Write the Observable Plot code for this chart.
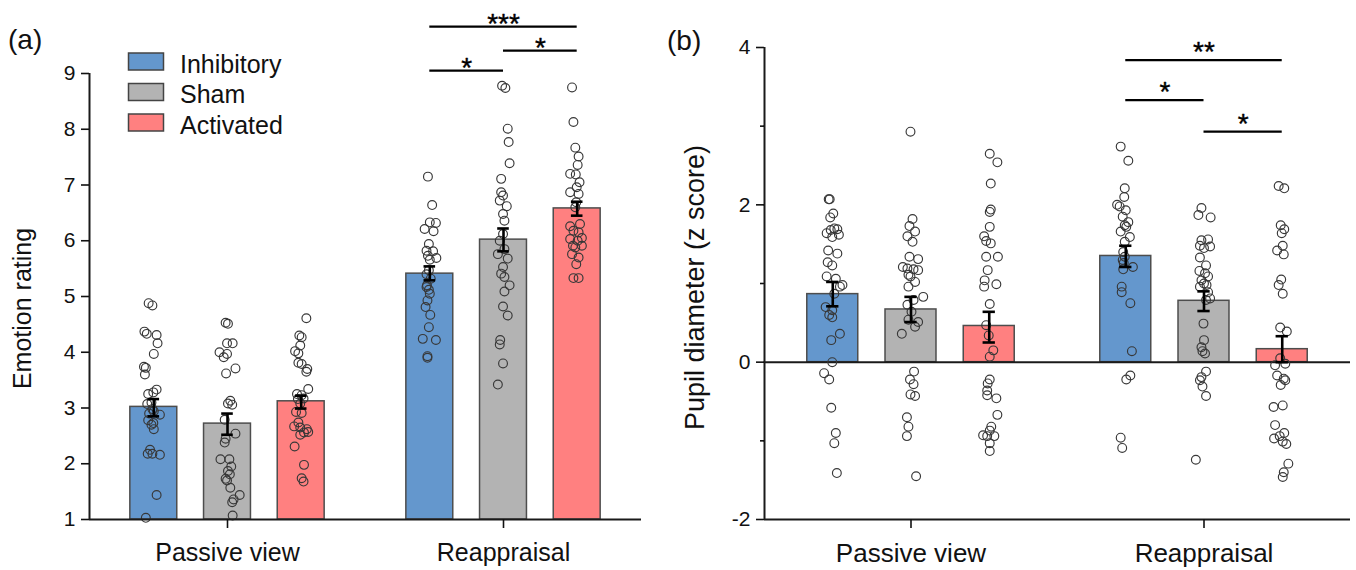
<!DOCTYPE html>
<html>
<head>
<meta charset="utf-8">
<script src="https://cdn.jsdelivr.net/npm/d3@7"></script>
<script src="https://cdn.jsdelivr.net/npm/@observablehq/plot@0.6"></script>
<style>
  body { margin: 0; background: #fff; font-family: "Liberation Sans", Arial, sans-serif; }
  #wrap { position: relative; width: 1356px; height: 570px; overflow: hidden; background: #fff; }
  .panel { position: absolute; top: 0; }
  .panel svg { overflow: visible; max-width: none; }
  .tag { position: absolute; font-size: 28px; line-height: 28px; color: #111; }
  #legend { position: absolute; left: 0; top: 0; }
</style>
</head>
<body>
<div id="wrap">
  <div class="panel" id="pa" style="left:0px;width:660px;"></div>
  <div class="panel" id="pb" style="left:660px;width:696px;"></div>
  <div class="tag" style="left:8px;top:26px;">(a)</div>
  <div class="tag" style="left:667px;top:27px;">(b)</div>
</div>
<script>
// ---------- categories ----------
const conditions = ["Passive view", "Reappraisal"];
const groups = ["Inhibitory", "Sham", "Activated"];
const colors = ["#6497CD", "#B3B3B3", "#FF8080"];

// ---------- (a) Emotion rating: means and SEM bounds [condition][group] ----------
const ratingMean = [[3.02, 2.72, 3.12], [5.41, 6.02, 6.58]];
const ratingLow  = [[2.85, 2.52, 2.99], [5.29, 5.81, 6.45]];
const ratingHigh = [[3.16, 2.90, 3.22], [5.54, 6.22, 6.70]];
const ratingYTicks = [1, 2, 3, 4, 5, 6, 7, 8, 9];

// individual participants: [value, jitter (fraction of bar width)]
const ratingPassiveInhibitory = [[4.88,-0.11],[4.84,-0.03],[4.37,-0.20],[4.33,-0.15],[4.31,0.06],[4.16,0.08],[3.97,0],[3.74,-0.21],[3.72,-0.17],[3.60,-0.19],[3.33,0.06],[3.28,-0.01],[3.25,-0.12],[3.07,-0.14],[3.10,-0.05],[2.98,-0.03],[2.94,0],[2.88,0.13],[2.90,-0.10],[2.78,-0.12],[2.73,-0.01],[2.70,-0.05],[2.62,0],[2.25,-0.08],[2.18,-0.13],[2.18,-0.03],[2.16,0.13],[1.44,0.06],[1.03,-0.17]];
const ratingPassiveSham = [[4.53,-0.04],[4.51,0.01],[4.16,-0.01],[4.16,0.11],[4.00,-0.17],[3.97,-0.01],[3.91,-0.08],[3.71,0.17],[3.62,-0.03],[3.13,0.06],[3.08,0.01],[3.06,0.10],[2.79,-0.06],[2.54,0.17],[2.45,-0.04],[2.38,-0.06],[2.08,-0.15],[2.08,0.04],[1.95,0.08],[1.87,0.01],[1.81,0.05],[1.73,-0.04],[1.70,-0.01],[1.57,0.06],[1.44,0.26],[1.36,0.13],[1.31,0.10],[1.07,0.11]];
const ratingPassiveActivated = [[4.61,0.11],[4.30,-0.04],[4.27,0.01],[4.12,-0.02],[4.02,-0.13],[3.98,-0.06],[3.81,-0.06],[3.79,0.01],[3.70,0.13],[3.65,0.11],[3.34,0.15],[3.25,-0.09],[3.23,0.01],[3.16,-0.07],[3.17,0.05],[3.08,-0.02],[2.93,-0.11],[2.91,0.01],[2.74,-0.06],[2.67,-0.15],[2.65,-0.02],[2.62,0.12],[2.57,0.15],[2.56,0.06],[2.52,-0.02],[2.31,-0.14],[1.98,0.06],[1.74,0.01],[1.68,0.05]];
const ratingReappInhibitory = [[7.15,-0.04],[6.64,0.05],[6.33,0],[6.32,0.13],[6.21,-0.11],[6.17,0.08],[5.94,-0.02],[5.82,-0.07],[5.81,0.07],[5.73,-0.04],[5.69,0.14],[5.66,0],[5.47,-0.02],[5.40,-0.07],[5.32,0.02],[5.20,-0.06],[5.17,-0.07],[5.12,-0.02],[5.05,0],[4.93,-0.05],[4.81,-0.09],[4.67,0.01],[4.45,-0.02],[4.24,-0.15],[4.22,0.13],[3.93,-0.05],[3.90,-0.05]];
const ratingReappSham = [[8.78,-0.03],[8.74,0.04],[8.01,0.09],[7.77,0.11],[7.39,0.13],[7.11,-0.05],[6.87,-0.05],[6.81,-0.01],[6.72,-0.08],[6.62,0.07],[6.48,-0.01],[6.36,0.02],[6.12,-0.01],[6.00,-0.08],[5.85,0.02],[5.76,-0.12],[5.68,0.09],[5.53,-0.01],[5.41,-0.05],[5.35,0.02],[5.20,0.13],[5.09,0.02],[4.82,-0.01],[4.66,0.09],[4.22,-0.07],[4.14,-0.08],[3.80,-0.01],[3.42,-0.12]];
const ratingReappActivated = [[8.75,-0.11],[8.13,-0.08],[7.67,-0.04],[7.51,0.03],[7.36,0.01],[7.20,-0.15],[7.19,-0.03],[7.05,0.05],[6.96,-0.01],[6.87,-0.15],[6.84,0.03],[6.69,-0.02],[6.60,-0.04],[6.26,-0.15],[6.30,0.06],[6.18,-0.08],[6.15,0.03],[6.03,-0.15],[6.00,0.01],[5.88,-0.04],[5.91,0.10],[5.76,-0.11],[5.70,0.03],[5.58,-0.02],[5.33,-0.08],[5.33,0.03],[6.05,0.10],[5.91,-0.09]];

// significance brackets (Reappraisal): group indices, bracket level, label
const ratingSig = [
  {from: 0, to: 2, level: 9.84, label: "***"},
  {from: 0, to: 1, level: 9.05, label: "*"},
  {from: 1, to: 2, level: 9.41, label: "*"}
];

// ---------- (b) Pupil diameter ----------
const pupilMean = [[0.865, 0.67, 0.46], [1.35, 0.78, 0.165]];
const pupilLow  = [[0.71, 0.51, 0.25], [1.21, 0.65, 0.00]];
const pupilHigh = [[1.02, 0.83, 0.64], [1.48, 0.90, 0.33]];
const pupilYTicks = [-2, 0, 2, 4];
const pupilMinorTicks = [-1, 1, 3];

const pupilPassiveInhibitory = [[2.07,-0.08],[2.07,-0.06],[1.89,0.01],[1.84,-0.05],[1.70,0.03],[1.68,-0.04],[1.69,0.09],[1.64,-0.12],[1.62,0.12],[1.59,-0.01],[1.42,-0.09],[1.38,0.09],[1.27,-0.10],[1.23,-0.01],[1.09,-0.12],[1.06,0.06],[0.98,0.19],[0.96,0.14],[0.87,0.03],[0.70,-0.14],[0.66,-0.01],[0.60,-0.07],[0.57,-0.01],[0.36,0.14],[0.28,-0.03],[0.00,-0.01],[-0.14,-0.17],[-0.22,-0.07],[-0.58,-0.03],[-0.90,0.06],[-1.03,0.03],[-1.41,0.08]];
const pupilPassiveSham = [[2.93,-0.01],[1.82,0.03],[1.73,-0.03],[1.66,0.08],[1.60,-0.07],[1.53,0.03],[1.34,-0.03],[1.31,0.14],[1.21,-0.16],[1.19,-0.07],[1.18,0.05],[1.17,0.14],[1.11,-0.05],[1.09,-0.01],[1.02,0.08],[0.96,-0.05],[0.83,0.24],[0.79,0.05],[0.73,-0.07],[0.64,0.01],[0.51,0.14],[0.54,-0.05],[0.45,0.08],[0.36,-0.18],[-0.12,0.06],[-0.22,-0.02],[-0.28,0.05],[-0.41,-0.01],[-0.43,0.08],[-0.70,-0.08],[-0.82,-0.05],[-0.94,-0.08],[-1.45,0.10]];
const pupilPassiveActivated = [[2.65,0.01],[2.54,0.16],[2.27,0.03],[1.94,0.03],[1.91,0.01],[1.72,0.01],[1.60,-0.10],[1.54,-0.06],[1.51,0.03],[1.34,-0.06],[1.34,0.17],[1.17,-0.03],[1.04,-0.09],[0.99,0.14],[0.96,-0.10],[0.74,0.01],[0.47,-0.06],[0.34,-0.01],[0.15,0.08],[0.07,0.01],[-0.22,0.01],[-0.27,-0.03],[-0.36,-0.04],[-0.42,-0.04],[-0.46,0.14],[-0.67,0.16],[-0.82,0.04],[-0.87,0.01],[-0.93,-0.12],[-0.94,0.10],[-0.94,-0.04],[-1.03,0.01],[-1.13,0.01]];
const pupilReappInhibitory = [[2.74,-0.10],[2.56,0.05],[2.21,-0.02],[2.10,-0.03],[2.00,-0.17],[1.98,-0.12],[1.93,0],[1.85,-0.06],[1.78,0.05],[1.74,-0.02],[1.72,0.01],[1.66,-0.10],[1.59,0.08],[1.53,-0.02],[1.40,-0.05],[1.34,-0.02],[1.30,-0.06],[1.26,-0.04],[1.21,0.14],[1.18,-0.05],[0.96,-0.08],[0.89,-0.08],[0.75,0.09],[0.14,0.12],[-0.17,0.09],[-0.22,0.01],[-0.96,-0.10],[-1.09,-0.07]];
const pupilReappSham = [[1.96,-0.05],[1.87,-0.11],[1.84,0.13],[1.55,-0.05],[1.56,0.08],[1.47,0.12],[1.48,-0.08],[1.45,0],[1.33,-0.08],[1.23,0.04],[1.16,-0.09],[1.13,0.02],[1.09,0.08],[1.04,-0.05],[1.00,0],[0.98,0.05],[0.96,-0.08],[0.89,0.08],[0.81,0.12],[0.79,0.04],[0.49,-0.01],[0.28,0],[0.19,-0.05],[0.14,-0.03],[0.11,0.02],[-0.12,0.04],[-0.19,-0.05],[-0.23,-0.08],[-0.31,-0.03],[-0.43,0.04],[-1.24,-0.16]];
const pupilReappActivated = [[2.24,-0.07],[2.21,0.04],[1.74,-0.03],[1.69,0.04],[1.64,-0.01],[1.48,0.01],[1.42,-0.10],[1.37,0.03],[1.05,-0.02],[0.98,-0.07],[0.87,0.01],[0.44,-0.04],[0.39,0.09],[0.05,-0.04],[-0.04,-0.14],[-0.02,0.06],[-0.17,-0.10],[-0.21,0.03],[-0.23,0.06],[-0.29,-0.03],[-0.57,-0.17],[-0.55,0.01],[-0.80,-0.14],[-0.90,0.04],[-0.94,-0.05],[-0.97,-0.16],[-1.01,0.01],[-1.04,0.08],[-1.29,0.12],[-1.40,0.03],[-1.46,0.01]];

const pupilSig = [
  {from: 0, to: 2, level: 3.84, label: "**"},
  {from: 0, to: 1, level: 3.33, label: "*"},
  {from: 1, to: 2, level: 2.93, label: "*"}
];

// ---------- drawing ----------
const FONT = "'Liberation Sans', Arial, sans-serif";
const groupOffset = [-0.267, 0, 0.267];

function makePanel(o) {
  const bars = [];
  conditions.forEach((c, ci) => groups.forEach((g, gi) => bars.push({
    ci, gi, pos: ci + groupOffset[gi],
    mean: o.mean[ci][gi], lo: o.low[ci][gi], hi: o.high[ci][gi]
  })));
  const dots = [];
  o.points.forEach((cond, ci) => cond.forEach((grp, gi) => grp.forEach(([v, j]) =>
    dots.push({x: ci + groupOffset[gi] + j * o.barW, y: v}))));
  const sig = o.sig.map(s => ({...s, x1: 1 + groupOffset[s.from], x2: 1 + groupOffset[s.to]}));
  const cap = 0.021;
  const xDomain = [-0.5, 1.5];
  const marks = [
    Plot.rectY(bars, {x1: d => d.pos - o.barW / 2, x2: d => d.pos + o.barW / 2,
      y1: o.base, y2: "mean", fill: d => colors[d.gi], stroke: "#4d4d4d", strokeWidth: 1.5}),
  ];
  if (o.zero) marks.push(Plot.ruleY([0], {stroke: "#1a1a1a", strokeWidth: 2}));
  marks.push(
    Plot.dot(dots, {x: "x", y: "y", r: 4.4, stroke: "#383838", strokeWidth: 1.15, fill: "none"}),
    Plot.ruleX(bars, {x: "pos", y1: "lo", y2: "hi", stroke: "#000", strokeWidth: 2.6}),
    Plot.ruleY(bars, {x1: d => d.pos - cap, x2: d => d.pos + cap, y: "lo", stroke: "#000", strokeWidth: 2.6}),
    Plot.ruleY(bars, {x1: d => d.pos - cap, x2: d => d.pos + cap, y: "hi", stroke: "#000", strokeWidth: 2.6}),
    Plot.ruleY(sig, {x1: "x1", x2: "x2", y: "level", stroke: "#000", strokeWidth: 2.2}),
    Plot.text(sig, {x: d => (d.x1 + d.x2) / 2, y: "level", text: "label", fontSize: 28, fontWeight: 500,
      dy: o.starDy, fill: "#000", stroke: "#000", strokeWidth: 0.4}),
    // axis lines
    Plot.ruleX([xDomain[0]], {y1: o.yDomain[0], y2: o.yDomain[1], stroke: "#1a1a1a", strokeWidth: 2}),
    Plot.ruleY([o.yDomain[0]], {stroke: "#1a1a1a", strokeWidth: 2}),
    Plot.axisY({ticks: o.yTicks, tickSize: 8, tickPadding: 6, fontSize: 21, tickFormat: d => String(d),
      label: null, strokeWidth: 1.6, fill: "#111"}),
    Plot.axisX({ticks: [0, 1], tickFormat: i => conditions[i], tickSize: 9, tickPadding: 15,
      fontSize: o.xFont, label: null, strokeWidth: 1.6, fill: "#111"}),
    Plot.text([o.title], {frameAnchor: "left", textAnchor: "middle", rotate: -90,
      dx: o.titleDx, dy: o.titleDy, fontSize: o.titleFont, fill: "#111"})
  );
  if (o.minor) marks.push(Plot.axisY({ticks: o.minor, tickSize: 4, tickFormat: () => "", label: null, strokeWidth: 1.6}));
  return Plot.plot({
    width: o.width, height: 570,
    marginLeft: o.ml, marginRight: o.mr, marginTop: o.mt, marginBottom: 51,
    x: {domain: xDomain, axis: null},
    y: {domain: o.yDomain, axis: null},
    style: {fontFamily: FONT, color: "#111", background: "transparent", overflow: "visible"},
    marks
  });
}

const panelA = makePanel({
  width: 660, ml: 89, mr: 19, mt: 73, base: 1, yDomain: [1, 9], yTicks: ratingYTicks,
  mean: ratingMean, low: ratingLow, high: ratingHigh, barW: 0.17,
  points: [[ratingPassiveInhibitory, ratingPassiveSham, ratingPassiveActivated],
           [ratingReappInhibitory, ratingReappSham, ratingReappActivated]],
  sig: ratingSig, starDy: -3, title: "Emotion rating", titleDx: -67, titleDy: 12,
  titleFont: 25, xFont: 25
});
document.getElementById("pa").appendChild(panelA);

const panelB = makePanel({
  width: 696, ml: 104, mr: 6, mt: 47, base: 0, yDomain: [-2, 4], yTicks: pupilYTicks, minor: pupilMinorTicks,
  mean: pupilMean, low: pupilLow, high: pupilHigh, barW: 0.174, zero: true,
  points: [[pupilPassiveInhibitory, pupilPassiveSham, pupilPassiveActivated],
           [pupilReappInhibitory, pupilReappSham, pupilReappActivated]],
  sig: pupilSig, starDy: -8, title: "Pupil diameter (z score)", titleDx: -69, titleDy: 4,
  titleFont: 27, xFont: 26
});
document.getElementById("pb").appendChild(panelB);

// legend (inside panel a, top-left)
const leg = d3.select("#wrap").append("svg").attr("id", "legend")
  .attr("width", 320).attr("height", 150).style("font-family", FONT);
groups.forEach((g, i) => {
  const top = 53 + i * 30.5;
  leg.append("rect").attr("x", 128.5).attr("y", top).attr("width", 35).attr("height", 17)
    .attr("fill", colors[i]).attr("stroke", "#444").attr("stroke-width", 1.5);
  leg.append("text").attr("x", 180).attr("y", top + 19.5).attr("font-size", 25).attr("fill", "#111").text(g);
});
</script>
</body>
</html>
